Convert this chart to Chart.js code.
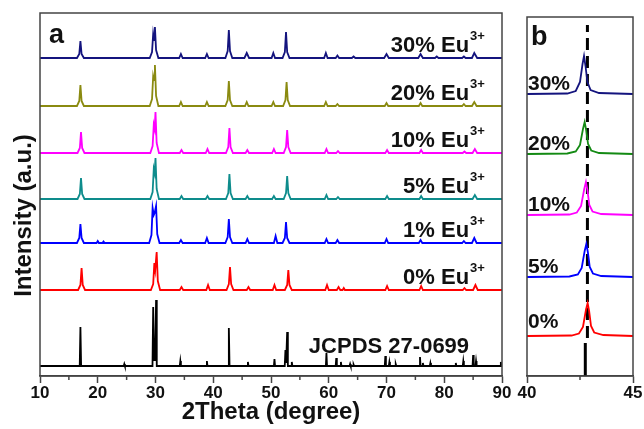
<!DOCTYPE html>
<html>
<head>
<meta charset="utf-8">
<script src="https://cdn.jsdelivr.net/npm/chart.js@4.4.0/dist/chart.umd.min.js"></script>
<style>
  html, body { margin: 0; padding: 0; background: #fff; }
  #wrap { position: relative; width: 644px; height: 429px; overflow: hidden; }
  #chartA { position: absolute; left: 0; top: 0; }
  #chartB { position: absolute; left: 512px; top: 0; }
</style>
</head>
<body>
<div id="wrap">
  <canvas id="chartA" width="514" height="429"></canvas>
  <canvas id="chartB" width="132" height="429"></canvas>
</div>
<script>
// ---- panel a: XRD patterns, [2theta, intensity above own baseline] ----
const samplesA = ['JCPDS 27-0699', '0% Eu', '1% Eu', '5% Eu', '10% Eu', '20% Eu', '30% Eu'];
const offsetsA = [10, 86, 133, 177, 223, 270, 318];

const jcpds = [[10,0],[16.88,0],[17.0,39],[17.12,0],[24.5,0],[24.6,2],[24.7,0],[29.48,0],[29.6,59],[29.75,6],[29.95,6],[30.1,66],[30.22,0],
  [34.2,0],[34.3,5],[34.4,0],[38.8,0],[38.9,5],[39.0,0],[42.58,0],[42.7,38],[42.82,0],[45.9,0],[46.0,4],[46.1,0],[50.5,0],[50.6,7],[50.7,0],
  [52.38,0],[52.5,16],[52.62,3],[52.7,3],[52.8,34],[52.92,0],[53.5,0],[53.6,4],[53.7,0],[59.5,0],[59.6,13],[59.7,0],[61.2,0],[61.3,8],[61.4,0],
  [62.0,0],[62.1,4],[62.2,0],[63.6,0],[63.7,2],[63.8,0],[64.2,0],[64.3,1.5],[64.4,0],[69.7,0],[69.8,10],[69.9,0],[70.4,0],[70.5,4],[70.6,0],
  [71.5,0],[71.6,2],[71.7,0],[75.7,0],[75.8,9],[75.9,0],[76.2,0],[76.3,3],[76.4,0],[77.5,0],[77.6,3],[77.7,0],[81.9,0],[82.0,3],[82.1,0],
  [83.2,0],[83.3,5],[83.4,0],[84.9,0],[85.0,11],[85.1,0],[85.4,0],[85.5,5],[85.6,0],[89.7,0],[89.8,4],[89.9,0],[90,0]];
const eu0 = [[10,0],[16.6,0],[17.0,5],[17.2,22],[17.4,5],[17.8,0],[29.2,0],[29.6,6],[29.8,27],[29.95,20],[30.2,38],[30.4,9],[30.8,0],
  [34.2,0],[34.5,3],[34.8,0],[38.8,0],[39.1,5],[39.4,0],[42.3,0],[42.7,6],[42.9,23],[43.1,6],[43.5,0],[45.8,0],[46.1,3],[46.4,0],
  [50.3,0],[50.6,5],[50.9,0],[52.4,0],[52.8,5],[53.0,20],[53.2,5],[53.6,0],[59.4,0],[59.7,5],[60.0,0],
  [61.4,0],[61.7,3],[62.0,0],[62.4,0],[62.6,2],[62.8,0],[69.8,0],[70.1,4],[70.4,0],[75.7,0],[76.0,4],[76.3,0],[83.2,0],[83.5,2],[83.8,0],
  [85.0,0],[85.4,5],[85.8,0],[90,0]];
const eu1 = [[10,0],[16.4,0],[16.8,5],[17.0,19],[17.2,5],[17.6,0],[19.8,0],[20.0,2],[20.2,0],[20.8,0],[21.0,1.5],[21.2,0],
  [28.9,0],[29.3,8],[29.5,35],[29.7,28],[29.85,30],[30.1,37],[30.3,9],[30.7,0],
  [34.1,0],[34.4,3],[34.7,0],[38.6,0],[38.9,5],[39.2,0],[42.1,0],[42.5,6],[42.7,24],[42.9,6],[43.3,0],[45.6,0],[45.9,4],[46.2,0],
  [50.5,0],[50.8,7],[51.1,0],[52.0,0],[52.4,5],[52.6,21],[52.8,5],[53.2,0],[59.3,0],[59.6,4],[59.9,0],[61.2,0],[61.5,3],[61.8,0],
  [69.7,0],[70.0,4],[70.3,0],[75.6,0],[75.9,3],[76.2,0],[83.1,0],[83.4,2],[83.7,0],[84.8,0],[85.2,5],[85.6,0],[90,0]];
const eu5 = [[10,0],[16.5,0],[16.9,5],[17.1,21],[17.3,5],[17.7,0],[29.1,0],[29.5,7],[29.7,30],[29.85,26],[30.0,41],[30.2,10],[30.6,0],
  [34.2,0],[34.5,3],[34.8,0],[38.7,0],[39.0,3],[39.3,0],[42.2,0],[42.6,6],[42.8,25],[43.0,6],[43.4,0],[45.6,0],[45.9,3],[46.2,0],
  [50.2,0],[50.5,3],[50.8,0],[52.2,0],[52.6,6],[52.8,23],[53.0,6],[53.4,0],[59.3,0],[59.6,4],[59.9,0],
  [61.3,0],[61.6,2],[61.9,0],[69.8,0],[70.1,3],[70.4,0],[75.7,0],[76.0,3],[76.3,0],[84.9,0],[85.3,4],[85.7,0],[90,0]];
const eu10 = [[10,0],[16.5,0],[16.9,5],[17.1,21],[17.3,5],[17.7,0],[29.1,0],[29.5,7],[29.7,28],[29.85,24],[30.0,41],[30.2,10],[30.6,0],
  [34.2,0],[34.5,3],[34.8,0],[38.7,0],[39.0,4],[39.3,0],[42.2,0],[42.6,6],[42.8,25],[43.0,6],[43.4,0],[45.6,0],[45.9,3],[46.2,0],
  [50.2,0],[50.5,4],[50.8,0],[52.2,0],[52.6,6],[52.8,23],[53.0,6],[53.4,0],[59.3,0],[59.6,4],[59.9,0],
  [61.3,0],[61.6,2],[61.9,0],[69.8,0],[70.1,3],[70.4,0],[75.7,0],[76.0,3],[76.3,0],[83.2,0],[83.5,1.5],[83.8,0],[84.9,0],[85.3,4],[85.7,0],[90,0]];
const eu20 = [[10,0],[16.4,0],[16.8,5],[17.0,21],[17.2,5],[17.6,0],[29.0,0],[29.4,7],[29.6,30],[29.75,26],[29.9,41],[30.1,10],[30.5,0],
  [34.1,0],[34.4,4],[34.7,0],[38.6,0],[38.9,4],[39.2,0],[42.1,0],[42.5,6],[42.7,25],[42.9,6],[43.3,0],[45.5,0],[45.8,4],[46.1,0],
  [50.1,0],[50.4,4],[50.7,0],[52.1,0],[52.5,6],[52.7,24],[52.9,6],[53.3,0],[59.2,0],[59.5,4],[59.8,0],
  [61.2,0],[61.5,2],[61.8,0],[69.7,0],[70.0,3],[70.3,0],[75.6,0],[75.9,3],[76.2,0],[83.1,0],[83.4,2],[83.7,0],[84.8,0],[85.2,4],[85.6,0],[90,0]];
const eu30 = [[10,0],[16.4,0],[16.8,4],[17.0,17],[17.2,4],[17.6,0],[29.0,0],[29.4,6],[29.6,24],[29.75,18],[29.9,31],[30.1,8],[30.5,0],
  [34.1,0],[34.4,4],[34.7,0],[38.6,0],[38.9,4],[39.2,0],[42.1,0],[42.5,7],[42.7,28],[42.9,7],[43.3,0],[45.4,0],[45.8,5],[46.2,0],
  [50.1,0],[50.4,5],[50.7,0],[52.0,0],[52.4,6],[52.6,26],[52.8,6],[53.2,0],[59.2,0],[59.5,5],[59.8,0],
  [61.2,0],[61.5,2.5],[61.8,0],[64.0,0],[64.3,1.5],[64.6,0],[69.6,0],[70.0,4],[70.4,0],[75.5,0],[75.9,4],[76.3,0],[78.4,0],[78.7,1.5],[79.0,0],
  [83.1,0],[83.4,1.5],[83.7,0],[84.8,0],[85.2,5],[85.7,0],[90,0]];
const patternsA = [jcpds, eu0, eu1, eu5, eu10, eu20, eu30];

// ---- panel b: zoom on the (42-43) peak ----
const samplesB = ['0%', '5%', '10%', '20%', '30%'];
const offsetsB = [40, 99, 161, 222, 282];
const b0 = [[40,0],[42.1,0.5],[42.45,2.5],[42.64,9],[42.78,26],[42.86,33],[42.93,25],[43.02,10],[43.17,3.5],[43.6,1],[45,0]];
const b5 = [[40,0],[42.0,0.5],[42.4,2.5],[42.58,9],[42.72,26],[42.80,33],[42.87,25],[42.96,10],[43.11,3.5],[43.5,1],[45,0]];
const b10 = [[40,0],[42.0,0.5],[42.35,2.5],[42.55,9],[42.7,26],[42.78,33],[42.85,25],[42.94,10],[43.09,3.5],[43.5,1],[45,0]];
const b20 = [[40,0],[41.9,0.5],[42.3,2.5],[42.5,9],[42.64,25],[42.72,32],[42.79,24],[42.88,10],[43.03,3.5],[43.4,1],[45,0]];
const b30 = [[40,0],[41.9,0.5],[42.3,3],[42.5,12],[42.62,30],[42.69,38],[42.76,28],[42.85,12],[43.0,4],[43.4,1],[45,0]];
const patternsB = [b0, b5, b10, b20, b30];
const jcpdsStickB = [[42.75, 0], [42.75, 33]];
const refLineB = [[42.85, 38], [42.85, 351]];

const ticksA = [15, 25, 35, 45, 55, 65, 75, 85];   // minor ticks
const ticksB = [42.5];

// ---- styles ----
const FONT = '"Liberation Sans", Arial, sans-serif';
const AXIS = '#444';
const colorsA = ['#000000', '#ff0000', '#0000ff', '#0e8c8c', '#ff00ff', '#8a8a10', '#14147e'];
const colorsB = ['#ff0000', '#0000ff', '#ff00ff', '#138a13', '#14147e'];

function toPoints(pts, offset) {
    return pts.map(p => ({ x: p[0], y: p[1] + offset }));
}

function framePlugin(id, minor) {
    return {
        id,
        afterDraw(chart) {
            const { ctx, chartArea: a, scales: { x } } = chart;
            ctx.save();
            ctx.strokeStyle = AXIS;
            ctx.lineWidth = 1.5;
            ctx.strokeRect(a.left, a.top, a.right - a.left, a.bottom - a.top);
            minor.forEach(v => {
                const px = x.getPixelForValue(v);
                ctx.beginPath();
                ctx.moveTo(px, a.bottom);
                ctx.lineTo(px, a.bottom + 4);
                ctx.stroke();
            });
            ctx.restore();
        }
    };
}

const labelsA = {
    id: 'labelsA',
    afterDraw(chart) {
        const { ctx, chartArea: a, scales: { x, y } } = chart;
        ctx.save();
        ctx.fillStyle = '#111';
        ctx.textBaseline = 'alphabetic';
        samplesA.forEach((name, i) => {
            const px = x.getPixelForValue(84.3);
            const py = y.getPixelForValue(offsetsA[i] + (i === 0 ? 13 : 6));
            ctx.font = 'bold 22px ' + FONT;
            ctx.textAlign = 'right';
            ctx.fillText(name, px, py);
            if (i > 0) {
                ctx.font = 'bold 13px ' + FONT;
                ctx.textAlign = 'left';
                ctx.fillText('3+', px + 1, py - 12);
            }
        });
        ctx.font = 'bold 27px ' + FONT;
        ctx.textAlign = 'left';
        ctx.fillText('a', a.left + 9, a.top + 30);

        // y title, drawn by hand so it can sit a bit below centre
        ctx.translate(24, (a.top + a.bottom) / 2 + 21);
        ctx.rotate(-Math.PI / 2);
        ctx.font = 'bold 24px ' + FONT;
        ctx.textAlign = 'center';
        ctx.textBaseline = 'middle';
        ctx.fillText('Intensity (a.u.)', 0, 0);
        ctx.restore();
    }
};

const labelsB = {
    id: 'labelsB',
    afterDraw(chart) {
        const { ctx, chartArea: a, scales: { y } } = chart;
        ctx.save();
        ctx.fillStyle = '#111';
        ctx.textAlign = 'left';
        ctx.textBaseline = 'alphabetic';
        ctx.font = 'bold 21px ' + FONT;
        samplesB.forEach((name, i) => {
            ctx.fillText(name, a.left + 1, y.getPixelForValue(offsetsB[i] + (i === 0 ? 8 : 4)));
        });
        ctx.font = 'bold 27px ' + FONT;
        ctx.fillText('b', a.left + 4, a.top + 28);
        ctx.restore();
    }
};

function xAxis(min, max, step, title) {
    return {
        type: 'linear', min, max,
        ticks: { stepSize: step, color: '#111', padding: 0, maxRotation: 0,
                 font: { family: FONT, size: 17, weight: 'bold' } },
        grid: { display: true, drawOnChartArea: false, tickLength: 7, tickWidth: 1.5, tickColor: AXIS },
        border: { display: true, color: AXIS, width: 1.5 },
        title: { display: !!title, text: title, color: '#111', padding: { top: 0, bottom: 2 },
                 font: { family: FONT, size: 24, weight: 'bold' } },
        afterFit: s => { s.height = 53; }
    };
}

const lineStyle = { borderWidth: 1.8, pointRadius: 0, tension: 0, fill: false };

new Chart(document.getElementById('chartA'), {
    type: 'line',
    data: {
        datasets: patternsA.map((pts, i) => Object.assign({
            label: samplesA[i],
            data: toPoints(pts, offsetsA[i]),
            borderColor: colorsA[i]
        }, lineStyle))
    },
    options: {
        responsive: false,
        animation: false,
        layout: { padding: { top: 13, right: 12, left: 0, bottom: 0 } },
        plugins: { legend: { display: false }, tooltip: { enabled: false } },
        scales: {
            x: xAxis(10, 90, 10, '2Theta (degree)'),
            y: { min: 0, max: 363, ticks: { display: false }, grid: { display: false },
                 border: { display: false }, afterFit: s => { s.width = 40; } }
        }
    },
    plugins: [framePlugin('frameA', ticksA), labelsA]
});

new Chart(document.getElementById('chartB'), {
    type: 'line',
    data: {
        datasets: patternsB.map((pts, i) => Object.assign({
            label: samplesB[i],
            data: toPoints(pts, offsetsB[i]),
            borderColor: colorsB[i]
        }, lineStyle)).concat([
            Object.assign({}, lineStyle, { label: 'JCPDS', data: toPoints(jcpdsStickB, 0), borderColor: '#000', borderWidth: 3 }),
            Object.assign({}, lineStyle, { label: 'ref', data: toPoints(refLineB, 0), borderColor: '#000', borderWidth: 3, borderDash: [12, 6] })
        ])
    },
    options: {
        responsive: false,
        animation: false,
        layout: { padding: { top: 17, right: 11, left: 15, bottom: 0 } },
        plugins: { legend: { display: false }, tooltip: { enabled: false } },
        scales: {
            x: xAxis(40, 45, 5, ''),
            y: { display: false, min: 0, max: 359 }
        }
    },
    plugins: [framePlugin('frameB', ticksB), labelsB]
});
</script>
</body>
</html>
